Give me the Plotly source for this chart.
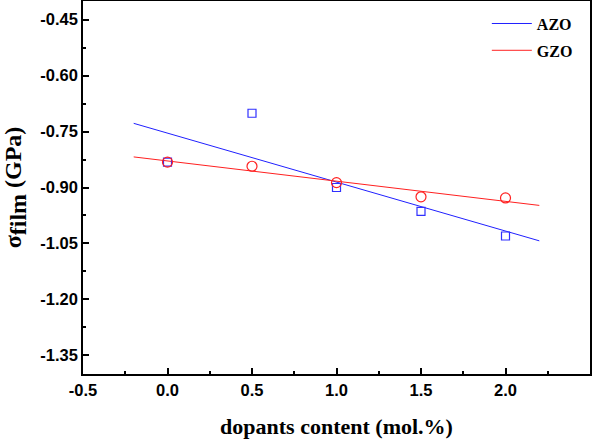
import plotly.graph_objects as go

# Data
dopant = [0.0, 0.5, 1.0, 1.5, 2.0]
azo_stress = [-0.832, -0.701, -0.900, -0.964, -1.030]
gzo_stress = [-0.832, -0.843, -0.887, -0.925, -0.928]

fit_x = [-0.2, 2.2]
azo_fit = [-0.728, -1.043]
gzo_fit = [-0.818, -0.948]

x_ticks = [-0.5, 0.0, 0.5, 1.0, 1.5, 2.0, 2.5]
y_ticks = [-0.45, -0.60, -0.75, -0.90, -1.05, -1.20, -1.35]

serif = "Liberation Serif, Times New Roman, serif"
sans = "Liberation Sans, Arial, sans-serif"

fig = go.Figure()
fig.add_trace(go.Scatter(x=fit_x, y=azo_fit, mode="lines", name="<b>AZO</b>",
                         line=dict(color="#2020ff", width=1), legendgroup="a"))
fig.add_trace(go.Scatter(x=fit_x, y=gzo_fit, mode="lines", name="<b>GZO</b>",
                         line=dict(color="#ff2020", width=1), legendgroup="g"))
fig.add_trace(go.Scatter(x=dopant, y=azo_stress, mode="markers", showlegend=False,
                         marker=dict(symbol="square-open", size=8, color="#3030ff",
                                     line=dict(width=1.2, color="#3030ff"))))
fig.add_trace(go.Scatter(x=dopant, y=gzo_stress, mode="markers", showlegend=False,
                         marker=dict(symbol="circle-open", size=10, color="#ff2020",
                                     line=dict(width=1.2, color="#ff2020"))))

fig.update_layout(
    width=600, height=448,
    margin=dict(l=83, r=10, t=1, b=74),
    paper_bgcolor="white", plot_bgcolor="white",
    showlegend=True,
    legend=dict(x=0.976, y=0.985, xanchor="right", yanchor="top",
                bgcolor="rgba(0,0,0,0)", font=dict(family=serif, size=16, color="black"),
                tracegroupgap=3, itemwidth=40),
)
fig.update_xaxes(
    range=[-0.5, 2.5], tickvals=x_ticks, ticktext=[f"<b>{v:.1f}</b>" for v in x_ticks],
    ticks="inside", ticklen=6, tickwidth=1.5, tickcolor="black",
    minor=dict(ticks="inside", ticklen=3, tickwidth=1.5, tickcolor="black", dtick=0.25, showgrid=False),
    showline=True, linewidth=1.5, linecolor="black", mirror=True, showgrid=False, zeroline=False,
    tickfont=dict(family=sans, size=16.5, color="black"), automargin=False,
    title=dict(text="<b>dopants content (mol.%)</b>", font=dict(family=serif, size=22, color="black"), standoff=21),
)
fig.update_yaxes(
    range=[-1.40, -0.40], tickvals=y_ticks, ticktext=[f"<b>{v:.2f}</b>" for v in y_ticks],
    ticks="inside", ticklen=6, tickwidth=1.5, tickcolor="black",
    minor=dict(ticks="inside", ticklen=3, tickwidth=1.5, tickcolor="black", dtick=0.075, showgrid=False),
    showline=True, linewidth=1.5, linecolor="black", mirror=True, showgrid=False, zeroline=False,
    tickfont=dict(family=sans, size=16.5, color="black"), automargin=False,
    title=dict(text="<b>σ<sub><span style='font-size:24px'>film</span></sub> (GPa)</b>",
               font=dict(family=serif, size=24, color="black"), standoff=12),
)

fig.write_html("out.html", config={"displayModeBar": False},
               post_script="document.body.style.margin='0px';")
